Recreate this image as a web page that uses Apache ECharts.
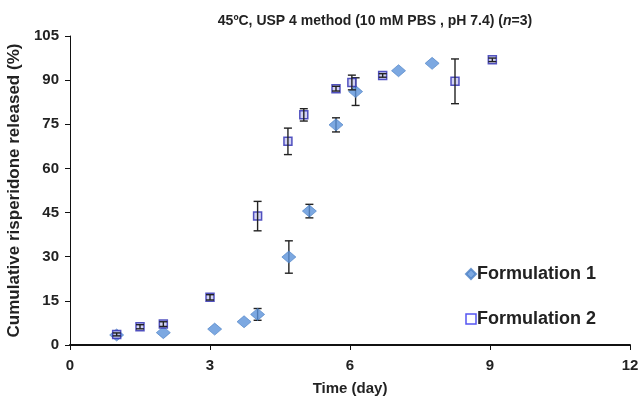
<!DOCTYPE html>
<html>
<head>
<meta charset="utf-8">
<script src="https://cdn.jsdelivr.net/npm/echarts@6/dist/echarts.min.js"></script>
<style>
  html, body { margin: 0; padding: 0; background: #fff; }
  #chart { width: 643px; height: 397px; }
</style>
</head>
<body>
<div id="chart"></div>
<script>
// Formulation 1 (diamonds)
var f1Days = [1, 2, 3.1, 3.73, 4.02, 4.69, 5.13, 5.7, 6.12, 7.04, 7.76];
var f1Vals = [3.4, 4.2, 5.4, 7.9, 10.4, 29.9, 45.5, 74.8, 86.1, 93.2, 95.7];
var f1Err  = [0, 0, 0, 0, 2, 5.5, 2.3, 2.4, 4.7, 0, 0];
// Formulation 2 (squares)
var f2Days = [1, 1.5, 2, 3, 4.02, 4.67, 5.01, 5.7, 6.04, 6.7, 8.25, 9.05];
var f2Vals = [3.6, 6.2, 7.1, 16.2, 43.8, 69.2, 78.2, 87.1, 89.2, 91.6, 89.6, 96.9];
var f2Err  = [0.5, 0.7, 0.8, 0.9, 5, 4.5, 2.1, 0.8, 2.5, 0.6, 7.6, 0.6];
var yTicks = [0, 15, 30, 45, 60, 75, 90, 105];

var font = 'Liberation Sans, Arial, sans-serif';

function pairs(xs, ys) {
    return xs.map(function (x, i) { return [x, ys[i]]; });
}
function errData(xs, ys, es) {
    var out = [];
    xs.forEach(function (x, i) {
        if (es[i] > 0) out.push([x, ys[i] - es[i], ys[i] + es[i]]);
    });
    return out;
}
// 误差线
function errorBar(params, api) {
    var lo = api.coord([api.value(0), api.value(1)]);
    var hi = api.coord([api.value(0), api.value(2)]);
    var w = 4;
    var style = { stroke: '#222', lineWidth: 1.4 };
    return {
        type: 'group',
        children: [
            { type: 'line', shape: { x1: lo[0], y1: lo[1], x2: hi[0], y2: hi[1] }, style: style },
            { type: 'line', shape: { x1: lo[0] - w, y1: lo[1], x2: lo[0] + w, y2: lo[1] }, style: style },
            { type: 'line', shape: { x1: hi[0] - w, y1: hi[1], x2: hi[0] + w, y2: hi[1] }, style: style }
        ]
    };
}

var chartView = echarts.init(document.getElementById('chart'));
chartView.setOption({
    backgroundColor: '#fff',
    animation: false,
    title: {
        text: '{a|45ºC, USP 4 method (10 mM PBS , pH 7.4) (}{i|n}{a|=3)}',
        left: 370,
        textAlign: 'center',
        top: 9,
        textStyle: {
            rich: {
                a: { fontFamily: font, fontWeight: 'bold', fontSize: 14, color: '#222' },
                i: { fontFamily: font, fontWeight: 'bold', fontStyle: 'italic', fontSize: 14, color: '#222' }
            }
        }
    },
    legend: {
        orient: 'vertical',
        left: 460,
        top: 260,
        itemGap: 27,
        itemWidth: 10,
        itemHeight: 10,
        textStyle: { fontFamily: font, fontWeight: 'bold', fontSize: 18, color: '#222', padding: [0, 0, 0, -4] },
        data: [
            { name: 'Formulation 1', icon: 'diamond' },
            { name: 'Formulation 2', icon: 'rect', itemStyle: { color: '#fff', borderColor: '#2a2aee', borderWidth: 1.5 } }
        ]
    },
    grid: { left: 70, right: 13, top: 36, bottom: 52, outerBoundsMode: 'none', containLabel: false },
    xAxis: {
        type: 'value',
        min: 0, max: 12, interval: 3,
        name: 'Time (day)',
        nameLocation: 'middle',
        nameGap: 36,
        nameTextStyle: { fontFamily: font, fontWeight: 'bold', fontSize: 15, color: '#222' },
        axisLine: { lineStyle: { color: '#111', width: 2 } },
        axisTick: { show: true, length: 5, lineStyle: { color: '#111' } },
        axisLabel: { fontFamily: font, fontWeight: 'bold', fontSize: 15, color: '#222', margin: 13 },
        splitLine: { show: false }
    },
    yAxis: {
        type: 'value',
        min: 0, max: 105, interval: 15,
        name: 'Cumulative risperidone released (%)',
        nameLocation: 'middle',
        nameGap: 38,
        nameTextStyle: { fontFamily: font, fontWeight: 'bold', fontSize: 17, color: '#222' },
        axisLine: { show: true, lineStyle: { color: '#111', width: 1 } },
        axisTick: { show: true, inside: false, length: 5, lineStyle: { color: '#111' } },
        axisLabel: {
            fontFamily: font, fontWeight: 'bold', fontSize: 15, color: '#222', margin: 11,
            formatter: function (v) { return yTicks.indexOf(v) >= 0 ? String(v) : ''; }
        },
        splitLine: { show: false }
    },
    series: [
        {
            type: 'custom',
            renderItem: errorBar,
            data: errData(f1Days, f1Vals, f1Err),
            z: 1,
            silent: true
        },
        {
            name: 'Formulation 1',
            type: 'scatter',
            symbol: 'diamond',
            symbolSize: [14, 12],
            itemStyle: { color: '#5b92d9', borderColor: '#4a7fc4', borderWidth: 0.8 },
            data: pairs(f1Days, f1Vals),
            z: 2
        },
        {
            name: 'Formulation 2',
            type: 'scatter',
            symbol: 'rect',
            symbolSize: 8,
            itemStyle: { color: '#c8c8f0', borderColor: '#2b2bb0', borderWidth: 1.5 },
            data: pairs(f2Days, f2Vals),
            z: 3
        },
        {
            type: 'custom',
            renderItem: errorBar,
            data: errData(f2Days, f2Vals, f2Err),
            z: 4,
            silent: true
        }
    ]
});
window.addEventListener('resize', function () {
    chartView.resize();
});
</script>
</body>
</html>
